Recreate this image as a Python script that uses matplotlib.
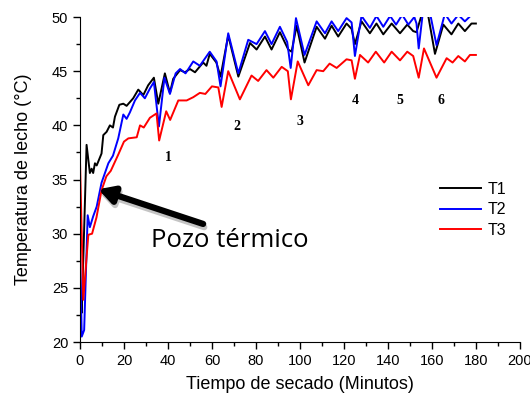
import matplotlib
matplotlib.use('Agg')
import matplotlib.pyplot as plt
import numpy as np

# T1 (black)
t1 = [0.3, 0.8, 3.0, 4.5, 5.3, 6.0, 6.8, 7.6, 9.8, 10.6, 12.1, 13.6, 15.0, 15.9, 17.9,
      19.7, 21.2, 24.2, 26.5, 28.8, 31.0, 33.6, 35.6, 38.6, 40.9, 42.4, 45.5, 47.7,
      50.0, 52.3, 56.0, 57.5, 59.0, 62.0, 63.9, 67.4, 72.0, 77.3, 80.3, 84.1, 87.1,
      90.9, 94.7, 96.2, 98.5, 102.1, 107.6, 111.4, 114.4, 117.4, 121.2, 123.5, 125.0,
      128.0, 131.8, 134.8, 137.9, 141.7, 145.5, 148.8, 151.5, 153.0, 156.5, 158.0,
      161.4, 165.2, 168.9, 172.0, 175.0, 178.0, 180.0]
T1 = [24.0, 22.7, 38.2, 35.6, 36.0, 35.6, 36.5, 36.3, 37.4, 39.1, 39.4, 40.0, 39.8, 40.8, 41.9,
      42.0, 41.8, 42.5, 43.3, 42.8, 43.7, 44.4, 42.0, 44.8, 43.0, 44.3, 45.1, 44.9,
      45.2, 44.9, 45.8, 45.5, 46.6, 45.8, 44.5, 48.3, 44.5, 47.6, 47.0, 48.2, 47.0,
      48.6, 47.0, 46.8, 49.2, 45.8, 49.1, 48.0, 49.2, 48.2, 49.4, 48.9, 47.5,
      49.6, 48.5, 49.4, 48.4, 49.4, 48.5, 49.3, 48.7, 48.6, 51.0, 50.5,
      46.6, 49.3, 48.4, 49.4, 48.7, 49.4, 49.4]

# T2 (blue)
t2 = [0.0, 0.8, 1.9, 3.5, 4.5, 6.0, 7.6, 9.8, 12.9, 15.0, 17.4, 19.7, 21.2, 22.7, 25.0,
      27.3, 29.5, 31.8, 33.6, 35.9, 38.4, 40.9, 43.5, 45.5, 48.0, 51.5, 54.5, 59.0,
      62.1, 63.9, 67.4, 72.0, 76.5, 80.3, 84.1, 87.1, 90.9, 94.2, 95.8, 98.2, 102.1,
      107.6, 111.4, 114.4, 117.4, 121.2, 123.5, 125.0, 128.0, 131.8, 134.8, 137.9,
      141.0, 143.7, 146.5, 149.3, 152.0, 153.0, 154.0, 156.5, 158.5, 162.1, 165.9,
      168.9, 172.0, 175.0, 178.0, 180.0]
T2 = [28.8, 20.5, 21.1, 31.7, 30.6, 31.6, 32.5, 34.7, 36.5, 37.2, 38.8, 41.0, 40.6, 41.2, 42.3,
      43.0, 42.5, 43.4, 44.0, 39.9, 44.4, 42.9, 44.8, 45.2, 44.8, 45.9, 45.5, 46.8,
      45.9, 43.6, 48.5, 44.8, 47.9, 47.5, 48.7, 47.5, 49.1, 47.7, 45.3, 49.9, 46.5,
      49.6, 48.5, 49.6, 48.7, 49.9, 49.5, 46.4, 50.1, 49.0, 50.1, 49.1,
      50.1, 49.3, 50.2, 49.3, 50.0, 49.4, 47.1, 51.5, 51.0, 47.4, 50.3,
      49.4, 50.2, 49.6, 50.2, 50.2]

# T3 (red)
t3 = [0.0, 1.5, 3.8, 5.5, 7.5, 9.8, 12.0, 14.0, 17.4, 20.0, 22.0, 25.8, 27.3, 29.0, 31.8,
      34.8, 36.0, 39.2, 41.0, 44.7, 48.5, 51.5, 54.5, 57.0, 60.0, 62.9, 64.4, 67.4,
      72.7, 78.0, 81.0, 84.8, 87.9, 91.7, 94.5, 95.9, 99.0, 103.8, 107.6, 110.6, 113.5,
      116.7, 121.2, 123.5, 125.0, 127.3, 131.0, 134.5, 138.3, 141.7, 145.5, 148.8,
      151.5, 154.0, 156.4, 162.1, 166.7, 169.4, 172.0, 175.0, 177.3, 180.0]
T3 = [36.8, 23.9, 29.9, 30.0, 31.5, 34.0, 35.3, 35.8, 37.3, 38.5, 38.8, 38.9, 40.0, 39.8, 40.7,
      41.1, 38.6, 41.3, 40.5, 42.3, 42.3, 42.6, 43.0, 42.9, 43.6, 43.5, 41.7, 45.0,
      42.4, 44.6, 44.1, 45.1, 44.4, 45.4, 45.0, 42.4, 45.9, 43.7, 45.1, 45.0, 45.7,
      45.3, 46.1, 46.0, 44.3, 46.5, 45.8, 46.8, 45.8, 46.8, 46.0, 46.8,
      46.4, 44.4, 47.1, 44.4, 46.2, 45.8, 46.4, 45.9, 46.5, 46.5]

# etiquetas de los pozos
pozo_lbl = ['1', '2', '3', '4', '5', '6']
pozo_x = [40, 71.4, 100, 125, 145.5, 164]
pozo_y = [37.0, 39.9, 40.4, 42.3, 42.3, 42.3]

fig = plt.figure(figsize=(5.3, 3.97), dpi=100)
ax = fig.add_axes([0.1509, 0.1385, 0.830, 0.8186])

ax.plot(t1, T1, color='black', lw=1.4, label='T1')
ax.plot(t2, T2, color='#0000ff', lw=1.4, label='T2')
ax.plot(t3, T3, color='#ff0000', lw=1.4, label='T3')

for s, x, y in zip(pozo_lbl, pozo_x, pozo_y):
    ax.text(x, y, s, family='Liberation Serif', weight='bold', fontsize=10,
            ha='center', va='center')

# flecha del pozo termico (con sombra)
ax.annotate('', xy=(8.8, 33.8), xytext=(56.5, 30.6),
            arrowprops=dict(arrowstyle='-|>,head_length=0.9,head_width=0.5',
                            color='#c4c4c4', lw=4.5, shrinkA=0, shrinkB=0), zorder=4)
ax.annotate('', xy=(8.3, 34.1), xytext=(56, 30.9),
            arrowprops=dict(arrowstyle='-|>,head_length=0.9,head_width=0.5',
                            color='black', lw=4.5, shrinkA=0, shrinkB=0), zorder=5)
ax.text(32.5, 29.4, 'Pozo térmico', family='Open Sans', fontsize=18.5,
        ha='left', va='center')

ax.set_xlim(0, 200)
ax.set_ylim(20, 50)
ax.set_xticks(np.arange(0, 201, 20))
ax.set_yticks(np.arange(20, 51, 5))
ax.set_xticks(np.arange(0, 201, 10), minor=True)
ax.set_yticks(np.arange(20, 51, 2.5), minor=True)
ax.tick_params(which='major', direction='out', length=5, width=1, labelsize=10.5)
ax.tick_params(which='minor', direction='out', length=3, width=1)
for lab in ax.get_xticklabels() + ax.get_yticklabels():
    lab.set_family('Liberation Sans')
ax.spines['top'].set_visible(False)
ax.spines['right'].set_visible(False)

ax.set_xlabel('Tiempo de secado (Minutos)', family='Liberation Sans', fontsize=13, labelpad=6)
ax.set_ylabel('Temperatura de lecho (°C)', family='Liberation Sans', fontsize=13, labelpad=14)

leg = ax.legend(loc='upper left', bbox_to_anchor=(0.785, 0.538), frameon=False,
                prop={'family': 'Liberation Sans', 'size': 11.5},
                handlelength=2.6, handletextpad=0.4, labelspacing=0.35)

plt.savefig('out.png', dpi=100)
